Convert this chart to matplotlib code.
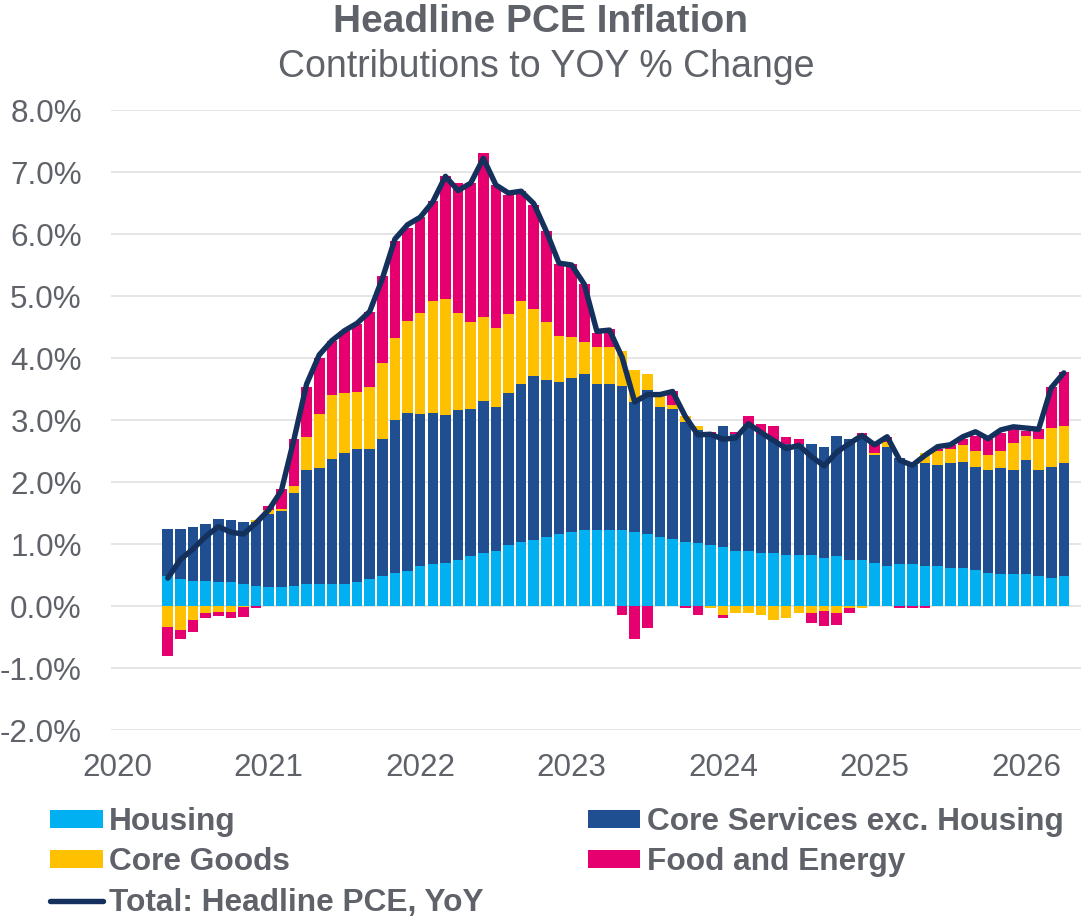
import numpy as np
import pandas as pd
import matplotlib
matplotlib.use("Agg")
import matplotlib.pyplot as plt
from matplotlib.lines import Line2D
from matplotlib.patches import Patch

plt.rcParams['font.family'] = ['Liberation Sans', 'DejaVu Sans']

# ---------------- data (percentage points, monthly from May 2020) ----------------
start_month = "2020-05"
housing = [0.48, 0.43, 0.41, 0.41, 0.38, 0.38, 0.35, 0.32, 0.30, 0.30,
           0.32, 0.35, 0.35, 0.36, 0.35, 0.38, 0.44, 0.48, 0.54, 0.57,
           0.64, 0.67, 0.70, 0.735, 0.80, 0.85, 0.88, 0.98, 1.04, 1.06,
           1.11, 1.155, 1.19, 1.22, 1.22, 1.22, 1.22, 1.19, 1.155, 1.11,
           1.075, 1.03, 1.01, 0.98, 0.945, 0.88, 0.88, 0.85, 0.85, 0.815,
           0.815, 0.815, 0.78, 0.80, 0.75, 0.735, 0.70, 0.65, 0.67, 0.67,
           0.64, 0.64, 0.605, 0.605, 0.575, 0.54, 0.51, 0.51, 0.51, 0.48,
           0.445, 0.48]
core_services = [0.76, 0.81, 0.87, 0.91, 1.03, 1.00, 1.00, 1.03, 1.18, 1.24,
                 1.50, 1.84, 1.87, 2.01, 2.11, 2.15, 2.09, 2.21, 2.46, 2.54,
                 2.45, 2.44, 2.38, 2.425, 2.37, 2.45, 2.33, 2.45, 2.54, 2.65,
                 2.53, 2.455, 2.48, 2.52, 2.36, 2.36, 2.33, 2.10, 2.325, 2.10,
                 2.095, 1.93, 1.83, 1.81, 1.955, 1.89, 2.05, 1.92, 1.82, 1.805,
                 1.805, 1.805, 1.78, 1.95, 1.94, 2.015, 1.73, 1.91, 1.71, 1.60,
                 1.66, 1.63, 1.695, 1.725, 1.675, 1.65, 1.71, 1.68, 1.84, 1.71,
                 1.805, 1.82]
core_goods = [-0.34, -0.38, -0.23, -0.11, -0.10, -0.10, -0.01, 0.03, 0.065, 0.02,
              0.11, 0.53, 0.87, 1.03, 0.97, 0.92, 1.00, 1.23, 1.32, 1.49,
              1.64, 1.81, 1.87, 1.57, 1.41, 1.36, 1.27, 1.28, 1.34, 1.08,
              0.94, 0.74, 0.67, 0.52, 0.60, 0.60, 0.56, 0.51, 0.26, 0.19,
              0.07, 0.10, 0.06, -0.03, -0.14, -0.11, -0.11, -0.14, -0.23, -0.20,
              -0.11, -0.11, -0.08, -0.11, -0.03, -0.03, 0.03, 0.08, 0.0, 0.0,
              0.16, 0.23, 0.23, 0.26, 0.25, 0.24, 0.28, 0.44, 0.39, 0.50,
              0.62, 0.60]
food_energy = [-0.47, -0.16, -0.19, -0.09, -0.06, -0.09, -0.16, -0.03, 0.065, 0.33,
               0.76, 0.81, 0.91, 0.87, 1.00, 1.10, 1.21, 1.40, 1.57, 1.50,
               1.54, 1.61, 1.99, 2.10, 2.25, 2.65, 2.31, 1.92, 1.78, 1.68,
               1.47, 1.17, 1.18, 0.93, 0.22, 0.29, -0.14, -0.54, -0.36, 0.0,
               0.23, -0.03, -0.14, 0.02, -0.06, 0.03, 0.13, 0.16, 0.23, 0.10,
               0.07, -0.16, -0.25, -0.19, -0.08, 0.04, 0.18, 0.08, -0.03, -0.03,
               -0.03, 0.04, 0.06, 0.10, 0.25, 0.26, 0.29, 0.22, 0.08, 0.16,
               0.66, 0.87]
total_pce = [0.45, 0.75, 0.92, 1.12, 1.28, 1.19, 1.16, 1.34, 1.55, 1.86,
             2.69, 3.58, 4.05, 4.28, 4.44, 4.56, 4.75, 5.28, 5.92, 6.15,
             6.27, 6.52, 6.93, 6.70, 6.82, 7.22, 6.79, 6.66, 6.69, 6.49,
             6.04, 5.53, 5.50, 5.19, 4.43, 4.45, 4.01, 3.29, 3.41, 3.41,
             3.46, 3.06, 2.76, 2.77, 2.69, 2.71, 2.94, 2.80, 2.67, 2.54,
             2.59, 2.41, 2.26, 2.48, 2.62, 2.75, 2.60, 2.73, 2.35, 2.27,
             2.43, 2.57, 2.60, 2.73, 2.81, 2.70, 2.84, 2.89, 2.87, 2.85,
             3.52, 3.76]
year_labels = ["2020", "2021", "2022", "2023", "2024", "2025", "2026"]
y_ticks = [-2, -1, 0, 1, 2, 3, 4, 5, 6, 7, 8]

series_names = ["Housing", "Core Services exc. Housing", "Core Goods", "Food and Energy"]
series_colors = ["#00B0F0", "#1F4E91", "#FFC000", "#E6006F"]
line_color = "#13315C"
text_color = "#5F6369"
grid_color = "#E3E3E3"

# ---------------- figure ----------------
W, H = 1081, 919
fig = plt.figure(figsize=(W / 100, H / 100), dpi=100)
ax = fig.add_axes([111 / W, 1 - 730 / H, 1 - 111 / W, (730 - 110) / H])

dates = pd.date_range(start_month, periods=len(housing), freq="MS")
xpos = np.array([(d.year - 2020) * 12 + (d.month - 1) for d in dates], dtype=float)

series = [housing, core_services, core_goods, food_energy]
pos_base = np.zeros(len(xpos))
neg_base = np.zeros(len(xpos))
handles = []
for vals, name, col in zip(series, series_names, series_colors):
    v = np.array(vals, dtype=float)
    bottom = np.where(v >= 0, pos_base, neg_base)
    ax.bar(xpos, v, width=0.84, bottom=bottom, color=col, linewidth=0, zorder=2)
    pos_base = pos_base + np.where(v >= 0, v, 0)
    neg_base = neg_base + np.where(v < 0, v, 0)
    handles.append(Patch(facecolor=col, edgecolor='none', label=name))

ax.plot(xpos, total_pce, color=line_color, lw=3.9, solid_joinstyle='round',
        solid_capstyle='round', zorder=3)
line_handle = Line2D([], [], color=line_color, lw=3.9, solid_capstyle='round',
                     label="Total: Headline PCE, YoY")

ax.set_ylim(-2, 8)
ax.set_xlim(-0.5, 76.36)
ax.set_yticks(y_ticks)
ax.set_yticklabels([f"{t:.1f}%" for t in y_ticks])
ax.set_xticks([12 * k for k in range(len(year_labels))])
ax.set_xticklabels(year_labels)
ax.tick_params(axis='both', length=0, labelsize=22.6, labelcolor=text_color)
ax.tick_params(axis='y', pad=21)
ax.tick_params(axis='x', pad=16.5)
ax.yaxis.grid(True, color=grid_color, lw=1.3, zorder=0)
ax.set_axisbelow(True)
for s in ax.spines.values():
    s.set_visible(False)

fig.text(0.5, 1 - 32 / H, "Headline PCE Inflation", ha='center', va='baseline',
         fontsize=28, fontweight='bold', color=text_color)
fig.text(0.505, 1 - 77 / H, "Contributions to YOY % Change", ha='center', va='baseline',
         fontsize=27, color=text_color)

leg_handles = [handles[0], handles[2], line_handle, handles[1], handles[3]]
leg = fig.legend(handles=leg_handles, loc='upper left', bbox_to_anchor=(50 / W, 1 - 807 / H),
                 ncol=2, frameon=False, handlelength=1.66, handleheight=0.5,
                 handletextpad=0.21, columnspacing=3.29, labelspacing=0.33, borderpad=0,
                 borderaxespad=0, prop={'weight': 'bold', 'size': 22.8})
for t in leg.get_texts():
    t.set_color(text_color)

fig.savefig("out.png", dpi=100)
